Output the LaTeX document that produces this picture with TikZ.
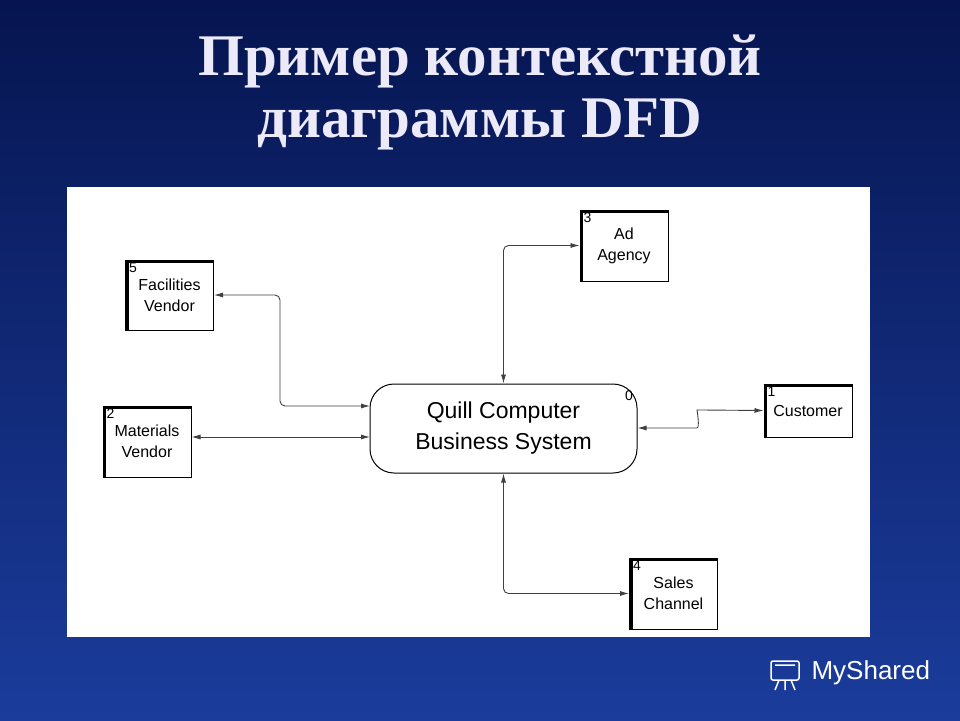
\documentclass[tikz,border=0pt]{standalone}
\usepackage{fontspec}
\setmainfont{Liberation Serif}
\newfontfamily\diag{Liberation Sans}
\usetikzlibrary{arrows.meta}
\definecolor{bgtop}{HTML}{061550}
\definecolor{bgbot}{HTML}{1B3C9C}
\definecolor{titlec}{HTML}{ECEAF8}
\tikzset{
  ent/.style={draw=black,line width=1pt,fill=white,minimum width=88pt,align=center,font=\diag\fontsize{16}{21}\selectfont,inner sep=0pt},
  flow/.style={draw=black!75,line width=0.9pt,{Latex[length=9pt,width=5pt]}-{Latex[length=9pt,width=5pt]},rounded corners=5pt},
  num/.style={font=\diag\fontsize{14}{15}\selectfont,inner sep=1pt,anchor=north west},
  ttl/.style={font=\bfseries\fontsize{59}{60}\selectfont}
}
\newcommand{\thickedge}[1]{\draw[line width=3.5pt] ([xshift=1.75pt]#1.south west) -- ([xshift=1.75pt,yshift=-1.75pt]#1.north west);
  \draw[line width=3.5pt] ([yshift=-1.75pt]#1.north west) -- ([yshift=-1.75pt]#1.north east);}
\begin{document}
\begin{tikzpicture}[x=1pt,y=-1pt]
\shade[top color=bgtop,bottom color=bgbot] (0,0) rectangle (960,720);
\useasboundingbox (0,0) rectangle (960,720);
\node[text=titlec,ttl,align=center] (t1) at (480,92) {Пример контекстной\\[2pt]диаграммы DFD};
\fill[white] (67,187) rectangle (870,637);
% process
\node[draw,line width=1pt,rounded corners=24pt,fill=white,minimum width=267pt,minimum height=89pt,align=center,font=\diag\fontsize{23}{31}\selectfont] (p) at (503.5,428.5) {Quill Computer\\Business System};
\node[font=\diag\fontsize{14}{15}\selectfont] (p0) at (629,396) {0};
% entities
\node[ent,minimum height=70pt] (fac) at (169.5,295) {Facilities\\Vendor};
\node[ent,minimum height=71pt] (mat) at (147,441.5) {Materials\\Vendor};
\node[ent,minimum height=71pt] (ad) at (624,245.5) {Ad\\Agency};
\node[ent,minimum height=53pt] (cus) at (808,410.5) {\raisebox{-5pt}{Customer}};
\node[ent,minimum height=71pt] (sal) at (673.5,593.5) {Sales\\Channel};
\foreach \n/\k in {fac/5,mat/2,ad/3,cus/1,sal/4}{\thickedge{\n}\node[num] (n\n) at ([xshift=3pt,yshift=-2pt]\n.north west) {\k};}
% flows
\coordinate (pf) at (370,406);
\coordinate (pm) at (370,437);
\draw[flow] (fac.east |- 0,295) -| (280,406) -- (pf);
\draw[flow] (mat.east |- 0,437) -- (pm);
\draw[flow] (p.north) |- (ad.west);
\draw[flow] (p.south) |- (sal.west);
\draw[flow] (cus.west) -- (702,410) .. controls (697,410) and (700,428) .. (692,428) -- (p.east |- 0,428);
% logo
\node[white,font=\diag\fontsize{26}{28}\selectfont,anchor=west] (logo) at (808,673) {MyShared};
\draw[white,line width=1.5pt,rounded corners=2pt] (771,661) rectangle (799,680);
\draw[white,line width=1.5pt] (775,665) -- (795,665) (779,680) -- (775,690) (791,680) -- (795,690) (785,680)--(785,690);
\end{tikzpicture}
\end{document}
